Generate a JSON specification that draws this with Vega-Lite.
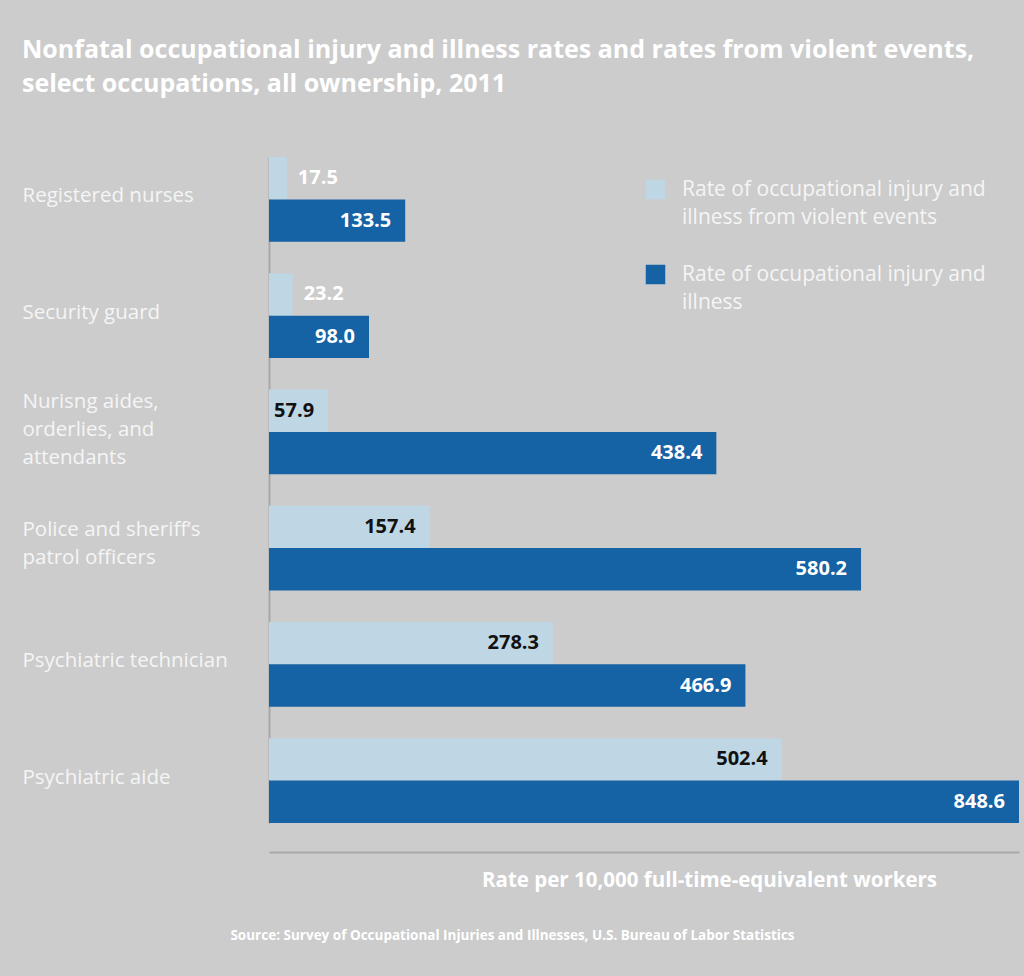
{
  "$schema": "https://vega.github.io/schema/vega-lite/v6.json",
  "autosize": {"type": "none"},
  "width": 750,
  "height": 697,
  "padding": {"left": 269, "top": 155, "right": 5, "bottom": 124},
  "background": "#cccccc",
  "title": {
    "text": ["Nonfatal occupational injury and illness rates and rates from violent events,", "select occupations, all ownership, 2011"],
    "anchor": "start",
    "frame": "group",
    "dx": -247,
    "offset": 58,
    "font": "Open Sans",
    "fontSize": 25,
    "fontWeight": "bold",
    "color": "#ffffff",
    "lineHeight": 34
  },
  "data": {
    "values": [
      {"occupation": "Registered nurses", "series": "Rate of occupational injury and illness from violent events", "value": 17.5},
      {"occupation": "Registered nurses", "series": "Rate of occupational injury and illness", "value": 133.5},
      {"occupation": "Security guard", "series": "Rate of occupational injury and illness from violent events", "value": 23.2},
      {"occupation": "Security guard", "series": "Rate of occupational injury and illness", "value": 98.0},
      {"occupation": "Nurisng aides, orderlies, and attendants", "series": "Rate of occupational injury and illness from violent events", "value": 57.9},
      {"occupation": "Nurisng aides, orderlies, and attendants", "series": "Rate of occupational injury and illness", "value": 438.4},
      {"occupation": "Police and sheriff’s patrol officers", "series": "Rate of occupational injury and illness from violent events", "value": 157.4},
      {"occupation": "Police and sheriff’s patrol officers", "series": "Rate of occupational injury and illness", "value": 580.2},
      {"occupation": "Psychiatric technician", "series": "Rate of occupational injury and illness from violent events", "value": 278.3},
      {"occupation": "Psychiatric technician", "series": "Rate of occupational injury and illness", "value": 466.9},
      {"occupation": "Psychiatric aide", "series": "Rate of occupational injury and illness from violent events", "value": 502.4},
      {"occupation": "Psychiatric aide", "series": "Rate of occupational injury and illness", "value": 848.6}
    ]
  },
  "encoding": {
    "y": {
      "field": "occupation",
      "type": "nominal",
      "sort": null,
      "scale": {"range": [2, 668], "paddingInner": 0.27, "paddingOuter": 0},
      "axis": {
        "title": "Source: Survey of Occupational Injuries and Illnesses, U.S. Bureau of Labor Statistics",
        "titleAngle": 0,
        "titleX": 243,
        "titleY": 780,
        "titleAlign": "center",
        "titleBaseline": "middle",
        "titleFont": "Open Sans",
        "titleFontSize": 13.5,
        "titleFontWeight": "bold",
        "titleColor": "#ffffff",
        "ticks": false,
        "labelPadding": 247,
        "labelAlign": "left",
        "labelBaseline": "middle",
        "labelFont": "Open Sans",
        "labelFontSize": 20.5,
        "labelColor": "#f5f5f5",
        "labelLineHeight": 28,
        "labelLimit": 300,
        "labelOffset": {
          "condition": [
            {"test": "datum.value == 'Nurisng aides, orderlies, and attendants'", "value": -30},
            {"test": "datum.value == 'Police and sheriff’s patrol officers'", "value": -18}
          ],
          "value": -3
        },
        "labelExpr": "datum.value == 'Nurisng aides, orderlies, and attendants' ? ['Nurisng aides,', 'orderlies, and', 'attendants'] : datum.value == 'Police and sheriff’s patrol officers' ? ['Police and sheriff’s', 'patrol officers'] : datum.label",
        "domainColor": "#a8a8a8",
        "domainWidth": 2
      }
    },
    "yOffset": {
      "field": "series",
      "type": "nominal",
      "sort": ["Rate of occupational injury and illness from violent events", "Rate of occupational injury and illness"],
      "scale": {"paddingInner": 0, "paddingOuter": 0}
    },
    "x": {
      "field": "value",
      "type": "quantitative",
      "scale": {"domain": [0, 735], "clamp": true, "nice": false},
      "axis": {
        "title": "Rate per 10,000 full-time-equivalent workers",
        "titleX": 440,
        "titleY": 28,
        "titleAlign": "center",
        "titleBaseline": "middle",
        "titleFont": "Open Sans",
        "titleFontSize": 20.5,
        "titleFontWeight": "bold",
        "titleColor": "#ffffff",
        "labels": false,
        "ticks": false,
        "grid": false,
        "domainColor": "#a8a8a8",
        "domainWidth": 2
      }
    }
  },
  "layer": [
    {
      "mark": {"type": "bar"},
      "encoding": {
        "color": {
          "field": "series",
          "type": "nominal",
          "scale": {
            "domain": ["Rate of occupational injury and illness from violent events", "Rate of occupational injury and illness"],
            "range": ["#bfd6e4", "#1562a5"]
          },
          "legend": {
            "title": null,
            "orient": "none",
            "legendX": 376,
            "legendY": 24,
            "symbolType": "square",
            "symbolSize": 380,
            "symbolStrokeWidth": 0,
            "symbolOpacity": 1,
            "labelFont": "Open Sans",
            "labelFontSize": 21,
            "labelColor": "#f5f5f5",
            "labelBaseline": "middle",
            "labelLimit": 400,
            "labelOffset": 16,
            "rowPadding": 35,
            "labelExpr": "datum.label == 'Rate of occupational injury and illness' ? ['Rate of occupational injury and', 'illness'] : ['Rate of occupational injury and', 'illness from violent events']"
          }
        }
      }
    },
    {
      "transform": [{"filter": "datum.series == 'Rate of occupational injury and illness'"}],
      "mark": {"type": "text", "align": "right", "baseline": "middle", "dx": -14, "font": "Open Sans", "fontSize": 20, "fontWeight": "bold", "color": "#ffffff"},
      "encoding": {"text": {"field": "value", "type": "quantitative", "format": ".1f"}}
    },
    {
      "transform": [{"filter": "datum.series == 'Rate of occupational injury and illness from violent events' && datum.value >= 50"}],
      "mark": {"type": "text", "align": "right", "baseline": "middle", "dx": -14, "font": "Open Sans", "fontSize": 20, "fontWeight": "bold", "color": "#111111"},
      "encoding": {"text": {"field": "value", "type": "quantitative", "format": ".1f"}}
    },
    {
      "transform": [{"filter": "datum.series == 'Rate of occupational injury and illness from violent events' && datum.value < 50"}],
      "mark": {"type": "text", "align": "left", "baseline": "middle", "dx": 11, "font": "Open Sans", "fontSize": 20, "fontWeight": "bold", "color": "#ffffff"},
      "encoding": {"text": {"field": "value", "type": "quantitative", "format": ".1f"}}
    }
  ],
  "config": {
    "view": {"stroke": null},
    "style": {"guide-label": {"lineHeight": 28}}
  }
}
